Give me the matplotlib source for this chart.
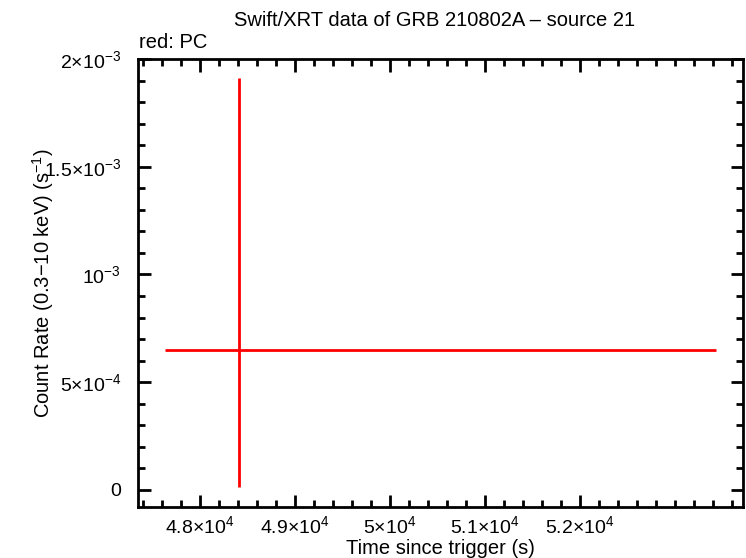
import numpy as np
import matplotlib.pyplot as plt
from matplotlib.ticker import MultipleLocator, FixedLocator, FixedFormatter

plt.rcParams['font.family'] = ['Liberation Sans', 'DejaVu Sans']
plt.rcParams['mathtext.fontset'] = 'custom'
plt.rcParams['mathtext.rm'] = 'Liberation Sans'
plt.rcParams['mathtext.it'] = 'Liberation Sans'

# PC mode data point (time, rate, asymmetric errors)
t = np.array([48410.0])
t_lo = np.array([778.0])
t_hi = np.array([5022.0])
rate = np.array([6.48e-4])
rate_lo = np.array([6.34e-4])
rate_hi = np.array([1.264e-3])

xticks = [48000, 49000, 50000, 51000, 52000]
xlabels = [r'$4.8{\times}10^{4}$', r'$4.9{\times}10^{4}$', r'$5{\times}10^{4}$',
           r'$5.1{\times}10^{4}$', r'$5.2{\times}10^{4}$']
yticks = [0, 5e-4, 1e-3, 1.5e-3, 2e-3]
ylabels = ['0', r'$5{\times}10^{-4}$', r'$10^{-3}$', r'$1.5{\times}10^{-3}$', r'$2{\times}10^{-3}$']

fig = plt.figure(figsize=(7.46, 5.58), dpi=100)
ax = fig.add_axes([138 / 746, 1 - 507 / 558, 605 / 746, 448 / 558])

ax.errorbar(t, rate, xerr=[t_lo, t_hi], yerr=[rate_lo, rate_hi],
            fmt='none', ecolor='#ff0000', elinewidth=2, capsize=0)

ax.set_xlim(47347, 53716)
ax.set_ylim(-7.9e-5, 2e-3)

ax.xaxis.set_major_locator(FixedLocator(xticks))
ax.xaxis.set_major_formatter(FixedFormatter(xlabels))
ax.xaxis.set_minor_locator(MultipleLocator(200))
ax.yaxis.set_major_locator(FixedLocator(yticks))
ax.yaxis.set_major_formatter(FixedFormatter(ylabels))
ax.yaxis.set_minor_locator(MultipleLocator(1e-4))

ax.tick_params(which='both', direction='in', top=True, right=True,
               width=2, labelsize=14)
ax.tick_params(axis='x', which='major', pad=6)
ax.tick_params(axis='y', which='major', pad=12)
ax.tick_params(which='major', length=9)
ax.tick_params(which='minor', length=5)
for s in ax.spines.values():
    s.set_linewidth(2)

ax.set_xlabel('Time since trigger (s)', fontsize=14.5, labelpad=1)
ax.set_ylabel(r'Count Rate (0.3$-$10 keV) (s$^{-1}$)', fontsize=14.5)
ax.yaxis.set_label_coords(-0.135, 0.5)

fig.text(435 / 746, 1 - 20 / 558, 'Swift/XRT data of GRB 210802A \u2013 source 21',
         ha='center', va='center', fontsize=14.5)
fig.text(139 / 746, 1 - 42 / 558, 'red: PC', ha='left', va='center', fontsize=14.5)

fig.savefig('out.png', dpi=100)
